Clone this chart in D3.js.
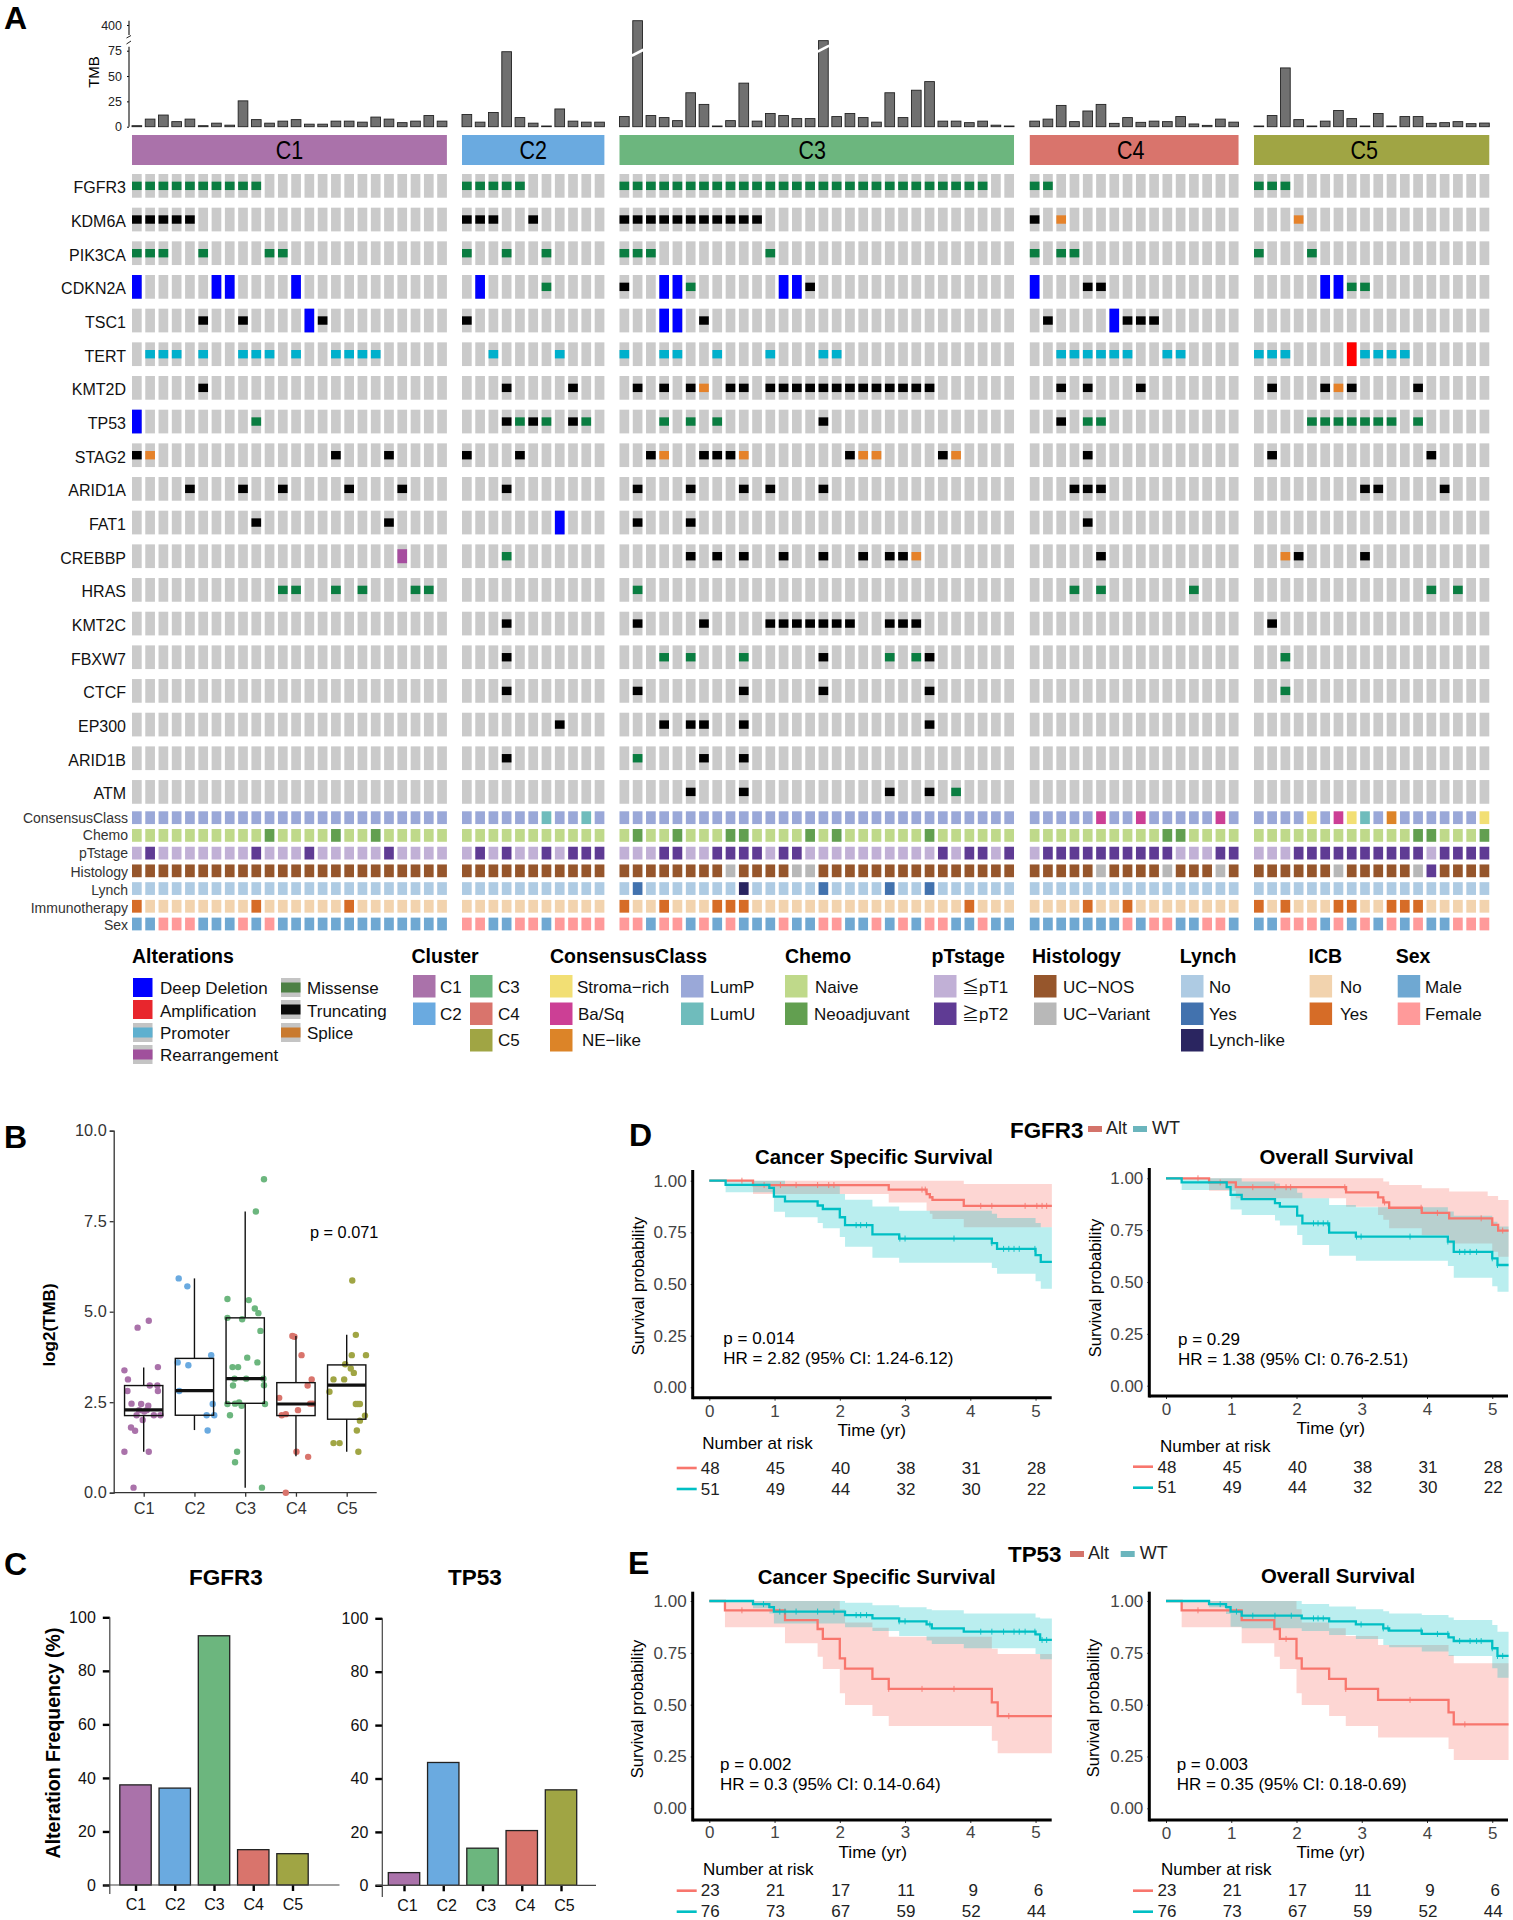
<!DOCTYPE html>
<html>
<head>
<meta charset="utf-8">
<script src="https://cdn.jsdelivr.net/npm/d3@7"></script>
<style>
body { margin: 0; background: #fff; }
text { font-family: "Liberation Sans", "Noto Sans CJK JP", sans-serif; }
</style>
</head>
<body>
<div id="main-svg"></div>
<script>
const clusters = ["C1", "C2", "C3", "C4", "C5"];
const clusterSizes = [24, 11, 30, 16, 18];
const clusterColors = ["#aa72aa", "#6aaae0", "#6cb67e", "#d9746c", "#a0a544"];

// TMB per patient, one array per cluster
const tmbC1 = [1, 7.5, 11.5, 5, 7.5, 1, 3.5, 1.5, 25.5, 7, 3.5, 5.5, 7, 2.5, 2.5, 5.5, 5.5, 4.5, 9.5, 7.5, 4, 5.5, 11, 5.5];
const tmbC2 = [12, 4.5, 14, 74, 9, 3.5, 0.7, 17.5, 5.5, 4.5, 4.5];
const tmbC3 = [10, 533, 11, 9, 6, 33.5, 22, 0.7, 6, 43, 5.5, 13, 11, 8, 8, 84.6, 10, 13, 9, 4.5, 33.5, 9, 36, 44.5, 5.5, 5.5, 4, 5.5, 1.5, 0.7];
const tmbC4 = [5.5, 7.5, 21, 5, 15.5, 22, 3.3, 9, 4.3, 5.5, 5, 10, 2.7, 1.3, 7.5, 4.5];
const tmbC5 = [0.7, 11, 58, 7, 0.7, 5.5, 16, 8, 0.7, 13, 0.7, 10, 10, 3.3, 4, 5, 3, 3.6];
const tmbAll = [tmbC1, tmbC2, tmbC3, tmbC4, tmbC5];

// alterations: one string per cluster, type letter + patient index or range
const FGFR3 = ["M0-9", "M0-4", "M0-27", "M0-1", "M0-2"];
const KDM6A = ["T0-4", "T0-2 T5", "T0-10", "T0 S2", "S3"];
const PIK3CA = ["M0-2 M5 M10-11", "M0 M3 M6", "M0-2 M11", "M0 M2-3", "M0 M4"];
const CDKN2A = ["D0 D6-7 D12", "D1 M6", "T0 D3-4 M5 D12-13 T14", "D0 T4-5", "D5-6 M7-8"];
const TSC1 = ["T5 T8 D13 T14", "T0", "D3-4 T6", "T1 D6 T7-9", ""];
const TERT = ["P1-3 P5 P8-10 P12 P15-18", "P2 P7", "P0 P3-4 P7 P11 P15-16", "P2-7 P10-11", "P0-2 A7 P8-11"];
const KMT2D = ["T5", "T3 T8", "T1 T3 T5 S6 T8-9 T11-23", "T2 T4 T8", "T1 T5 S6 T7 T12"];
const TP53 = ["D0 M9", "T3 M4 T5 M6 T8 M9", "M3 M5 M7 T15", "T2 M4-5", "M4-10 M12"];
const STAG2 = ["T0 S1 T15 T19", "T0 T4", "T2 S3 T6-8 S9 T17 S18-19 T24 S25", "T4", "T1 T13"];
const ARID1A = ["T4 T8 T11 T16 T20", "T3", "T1 T5 T9 T11 T15", "T3-5", "T8-9 T14"];
const FAT1 = ["T9 T19", "D7", "T1 T5", "T4", ""];
const CREBBP = ["R20", "M3", "T5 T7 T9 T12 T15 T18 T20-21 S22", "T5", "S2 T3 T8"];
const HRAS = ["M11-12 M15 M17 M21-22", "", "M1", "M3 M5 M12", "M13 M15"];
const KMT2C = ["", "T3", "T1 T6 T11-17 T20-22", "", "T1"];
const FBXW7 = ["", "T3", "M3 M5 M9 T15 M20 M22 T23", "", "M2"];
const CTCF = ["", "T3", "T1 T9 T15 T23", "", "M2"];
const EP300 = ["", "T7", "T3 T5-6 T9 T23", "", ""];
const ARID1B = ["", "T3", "M1 T6 T9", "", ""];
const ATM = ["", "", "T5 T9 T20 T23 M25", "", ""];
const genes = ["FGFR3", "KDM6A", "PIK3CA", "CDKN2A", "TSC1", "TERT", "KMT2D", "TP53", "STAG2", "ARID1A", "FAT1", "CREBBP", "HRAS", "KMT2C", "FBXW7", "CTCF", "EP300", "ARID1B", "ATM"];
const geneAlts = [FGFR3, KDM6A, PIK3CA, CDKN2A, TSC1, TERT, KMT2D, TP53, STAG2, ARID1A, FAT1, CREBBP, HRAS, KMT2C, FBXW7, CTCF, EP300, ARID1B, ATM];
const altColors = { M: "#0a7d41", T: "#000000", S: "#e5822a", P: "#00b0cc", D: "#0000ff", A: "#ff0000", R: "#a64d9f" };

// clinical tracks: only the patients that differ from the track's default level
const annConsensus = ["", "U6 U9", "", "B5 B8 B14", "S4 B6 S7 U8 N10 S17"];
const annChemo = ["A10 A15 A18", "", "A1 A4 A8-9 A14 A16 A23", "A10-11", "A12-13 A17"];
const annStage = ["H1 H9 H13 H19", "H1 H3 H6 H8-10", "H3-4 H7-10 H12-13 H24 H26-27 H29", "H1-10 H14-15", "H3-12 H14-17"];
const annHist = ["", "", "V8 V13-14", "V5 V10 V14", "V6 V12 X13"];
const annLynch = ["", "", "Y1 L9 Y15 Y20 Y23", "", ""];
const annImmuno = ["Y0 Y9 Y16", "", "Y0 Y3 Y7-9 Y26", "Y4 Y7", "Y0 Y2 Y6-7 Y10-12"];
const annSex = ["F2-4 F8 F10", "F0-1 F4-5 F7-10", "F0-1 F3-4 F6 F8 F12 F15-16 F19 F21 F23-24 F27", "F7 F9-10 F13-14", "F2-4 F6 F8 F10 F12 F15-17"];
const annNames = ["ConsensusClass", "Chemo", "pTstage", "Histology", "Lynch", "Immunotherapy", "Sex"];
const annData = [annConsensus, annChemo, annStage, annHist, annLynch, annImmuno, annSex];
const annPalette = [
    { _: "#9aa8d8", U: "#6fbcbc", B: "#cc3f95", S: "#f2df74", N: "#dc8428" },
    { _: "#bfd98a", A: "#629f50" },
    { _: "#c1b0d6", H: "#5f3b94" },
    { _: "#96562c", V: "#b8b8b8", X: "#5f3b94" },
    { _: "#aecbe3", Y: "#4272ae", L: "#2a2560" },
    { _: "#f2d3ae", Y: "#d66c27" },
    { _: "#6fa8d2", F: "#ff9a9a" }
];

// panel B
const boxStats = [
    { min: 1.13, q1: 2.13, med: 2.29, q3: 2.96, max: 3.46 },
    { min: 1.73, q1: 2.14, med: 2.82, q3: 3.71, max: 5.92 },
    { min: 0.14, q1: 2.47, med: 3.15, q3: 4.83, max: 7.77 },
    { min: 1.01, q1: 2.13, med: 2.45, q3: 3.04, max: 4.33 },
    { min: 1.13, q1: 2.03, med: 2.97, q3: 3.53, max: 4.36 }
];
// [jitter in category steps, log2(TMB)]
const ptsC1 = [[.10,4.75],[-.12,4.56],[-.38,3.38],[.28,3.47],[-.31,3.13],[.12,2.96],[.27,2.96],[-.32,2.81],[.28,2.81],[-.24,2.46],[-.05,2.45],[.09,2.40],[-.14,2.14],[.01,2.24],[.20,2.14],[.33,2.14],[-.02,2.01],[-.25,1.80],[-.17,1.71],[-.38,1.13],[.10,1.13],[-.20,.14],[-.09,2.28],[.06,2.28]];
const ptsC2 = [[-.31,5.92],[-.14,5.70],[.33,3.80],[-.33,3.60],[-.12,3.52],[-.30,2.81],[.36,2.45],[.24,2.14],[.39,2.14],[.26,1.72]];
const ptsC3 = [[.37,8.66],[.21,7.77],[-.35,5.35],[.07,5.32],[.19,5.09],[.26,4.96],[-.35,4.83],[-.06,4.79],[.30,4.47],[.04,3.73],[.24,3.60],[-.25,3.47],[-.14,3.47],[-.21,3.15],[.02,3.15],[.36,3.15],[-.24,2.96],[.37,2.97],[-.35,2.45],[-.20,2.46],[-.12,2.49],[-.07,2.40],[.39,2.45],[-.30,2.14],[-.16,1.13],[-.20,.84],[.33,.14]];
const ptsC4 = [[-.07,4.33],[-.03,4.31],[.11,3.80],[.31,3.13],[.23,2.96],[-.33,2.62],[.28,2.46],[.33,2.46],[-.28,2.14],[-.20,2.17],[.04,2.28],[.01,1.13],[.24,.99],[-.20,0]];
const ptsC5 = [[.11,5.86],[.18,4.36],[.10,3.80],[.38,3.80],[-.03,3.55],[.08,3.43],[.14,3.31],[-.26,3.13],[-.05,3.13],[-.34,2.79],[.18,2.45],[.22,2.45],[.26,2.45],[.36,2.13],[.26,1.99],[.20,1.72],[-.26,1.37],[-.14,1.37],[.23,1.13]];
const ptsAll = [ptsC1, ptsC2, ptsC3, ptsC4, ptsC5];

// panel C
const freqFGFR3 = [37.4, 36.2, 93.1, 13.2, 11.7];
const freqTP53 = [4.75, 46, 13.9, 20.5, 35.75];

// panel D, cancer specific survival
const d1AltT = [0, .67, 2.75, 3.33, 3.38, 3.42, 3.9, 5.25];
const d1AltS = [1, .979, .957, .935, .92, .907, .878, .878];
const d1AltU = [1, 1, 1, 1, 1, 1, .984, .984];
const d1AltL = [1, .936, .894, .855, .84, .815, .775, .775];
const d1AltC = [.5, .84, 1.09, 1.33, 1.66, 1.83, 1.91, 3.26, 3.31, 4.16, 4.33, 4.84, 5.02, 5.1, 5.17];
const d1WtT = [0, .25, .92, .99, 1.16, 1.66, 1.74, 2.0, 2.08, 2.5, 2.91, 4.33, 4.41, 5.0, 5.08, 5.25];
const d1WtS = [1, .98, .965, .923, .90, .88, .863, .823, .785, .74, .72, .698, .67, .64, .607, .607];
const d1WtU = [1, 1, 1, 1, .984, .984, .975, .936, .908, .875, .855, .84, .82, .795, .775, .775];
const d1WtL = [1, .944, .944, .85, .823, .795, .77, .727, .68, .627, .603, .577, .55, .513, .477, .477];
const d1WtC = [2.25, 2.32, 2.41, 2.92, 3.0, 3.75, 4.33, 4.51, 4.59, 4.67, 4.75, 4.99];

// panel D, overall survival
const d2AltT = [0, .66, 1.07, 2.76, 3.25, 3.33, 3.42, 3.92, 4.34, 4.93, 5.0, 5.09, 5.25];
const d2AltS = [1, .98, .957, .932, .908, .884, .858, .833, .807, .807, .775, .748, .748];
const d2AltU = [1, 1, 1, 1, 1, .984, .968, .952, .936, .915, .915, .895, .895];
const d2AltL = [1, .94, .904, .863, .823, .8, .759, .727, .686, .686, .646, .622, .622];
const d2AltC = [.49, .83, 1.33, 1.67, 1.84, 1.91, 2.74, 3.35, 3.91, 4.16, 4.83, 5.16];
const d2WtT = [0, .24, .93, .99, 1.16, 1.67, 1.745, 2.01, 2.09, 2.5, 2.91, 4.32, 4.41, 5, 5.08, 5.25];
const d2WtS = [1, .98, .957, .92, .90, .88, .863, .82, .783, .738, .719, .695, .645, .614, .582, .582];
const d2WtU = [1, 1, 1, 1, .984, .975, .957, .93, .904, .871, .86, .84, .82, .79, .767, .767];
const d2WtL = [1, .944, .944, .85, .823, .796, .772, .727, .678, .627, .603, .577, .52, .48, .453, .453];
const d2WtC = [2.26, 2.33, 2.41, 2.48, 2.92, 2.99, 3.74, 4.32, 4.5, 4.58, 4.66, 4.76, 5, 5.08];

// panel E, cancer specific survival
const e1AltT = [0, .24, 1.16, 1.66, 1.74, 2, 2.08, 2.5, 2.75, 4.33, 4.42, 5.25];
const e1AltS = [1, .955, .908, .865, .817, .723, .674, .624, .576, .511, .445, .445];
const e1AltU = [1, 1, 1, 1, 1, .96, .896, .871, .828, .77, .744, .744];
const e1AltL = [1, .873, .796, .731, .672, .555, .498, .445, .397, .326, .265, .265];
const e1AltC = [.5, 2.75, 3.26, 3.75, 4.59];
const e1WtT = [0, .67, .92, .99, 2.08, 2.5, 2.91, 3.33, 3.41, 3.9, 5, 5.07, 5.25];
const e1WtS = [1, .985, .97, .949, .932, .916, .902, .887, .868, .852, .839, .812, .812];
const e1WtU = [1, 1, 1, 1, .992, .98, .97, .96, .955, .94, .921, .916, .916];
const e1WtL = [1, .965, .94, .892, .873, .855, .831, .809, .793, .772, .744, .719, .719];
const e1WtC = [.83, 1.08, 1.16, 1.33, 1.66, 1.91, 2.25, 2.32, 2.41, 2.91, 3, 3.38, 4.16, 4.33, 4.51, 4.67, 4.75, 4.84, 4.99, 5.1, 5.17];

// panel E, overall survival
const e2AltT = [0, .24, 1.16, 1.66, 1.745, 2, 2.08, 2.5, 2.755, 3.25, 4.33, 4.41, 5.25];
const e2AltS = [1, .955, .908, .865, .817, .723, .674, .624, .576, .523, .463, .405, .405];
const e2AltU = [1, 1, 1, 1, 1, .96, .896, .868, .831, .788, .74, .70, .70];
const e2AltL = [1, .873, .796, .731, .672, .555, .498, .445, .397, .342, .286, .233, .233];
const e2AltC = [.49, 1.84, 2.755, 3.74, 4.58];
const e2WtT = [0, .66, .92, .99, 1.16, 2.08, 2.5, 2.91, 3.33, 3.42, 3.92, 4.33, 4.41, 5, 5.08, 5.25];
const e2WtS = [1, .985, .97, .949, .929, .916, .902, .887, .868, .857, .841, .825, .807, .772, .735, .735];
const e2WtU = [1, 1, 1, 1, 1, .985, .973, .96, .95, .94, .932, .921, .908, .884, .852, .852];
const e2WtL = [1, .97, .937, .876, .868, .855, .836, .817, .788, .777, .756, .735, .735, .675, .63, .63];
const e2WtC = [.83, 1.08, 1.33, 1.67, 1.92, 2.26, 2.33, 2.41, 2.99, 3.33, 3.4, 3.91, 4.16, 4.32, 4.5, 4.66, 4.76, 4.83, 5, 5.08, 5.16];

const riskFGFR3Alt = [48, 45, 40, 38, 31, 28];
const riskFGFR3Wt = [51, 49, 44, 32, 30, 22];
const riskTP53Alt = [23, 21, 17, 11, 9, 6];
const riskTP53Wt = [76, 73, 67, 59, 52, 44];

const width = 1513;
const height = 1920;
const altRed = "#f8766d";
const wtTeal = "#00bfc4";

const svg = d3.select("#main-svg")
    .append("svg")
    .attr("width", width)
    .attr("height", height)
    .style("display", "block");

function addText(x, y, str, size, opts = {}) {
    return svg.append("text")
        .attr("x", x)
        .attr("y", y)
        .attr("font-size", size)
        .attr("font-weight", opts.bold ? "bold" : null)
        .attr("text-anchor", opts.anchor || "start")
        .attr("fill", opts.fill || "#000")
        .text(str);
}

function rotText(x, y, str, size, bold) {
    return svg.append("text")
        .attr("transform", `translate(${x},${y}) rotate(-90)`)
        .attr("font-size", size)
        .attr("font-weight", bold ? "bold" : null)
        .attr("text-anchor", "middle")
        .text(str);
}

// "M0-2 T5" -> Map(0:M, 1:M, 2:M, 5:T)
function parseCodes(str) {
    const out = new Map();
    str.split(" ").filter(Boolean).forEach(tok => {
        const [a, b] = tok.slice(1).split("-").map(Number);
        for (let i = a; i <= (b === undefined ? a : b); i++) out.set(i, tok[0]);
    });
    return out;
}

// ---- panel A ----
[["A", 4, 29], ["B", 4, 1148], ["C", 4, 1575], ["D", 629, 1146], ["E", 628, 1574]].forEach(d => {
    addText(d[1], d[2], d[0], 32, { bold: true });
});

const colPitch = 13.27;
const colPad = 0.27;
const clusterStart = [132, 462, 619.5, 1029.8, 1254];
const stripLabelDx = [0, 0, -4.5, -3.5, -7.5];
const colScales = clusters.map((c, k) => d3.scaleBand()
    .domain(d3.range(clusterSizes[k]))
    .range([clusterStart[k], clusterStart[k] + (clusterSizes[k] - colPad) * colPitch])
    .paddingInner(colPad)
    .paddingOuter(0)
    .align(0));

const tmbY = d3.scaleLinear().domain([0, 75, 90, 400]).range([126.7, 50.7, 35, 25]);
const tmbBreaks = [{ k: 2, i: 1, at: 73 }, { k: 2, i: 15, at: 77 }];

const tmbAxis = svg.append("g").attr("transform", "translate(129,0)")
    .call(d3.axisLeft(tmbY).tickValues([0, 25, 50, 75, 400]).tickSize(2).tickPadding(5));
tmbAxis.select(".domain").remove();
tmbAxis.selectAll("text").attr("font-size", 12.5).attr("fill", "#222").style("font-family", null);
[[20.7, 35], [46.7, 126.7]].forEach(seg => {
    svg.append("line").attr("x1", 129).attr("x2", 129).attr("y1", seg[0]).attr("y2", seg[1])
        .attr("stroke", "#222").attr("stroke-width", 1.2);
});
svg.append("path").attr("d", "M126.5,38 L131,35.5 M126.5,44 L131,41").attr("stroke", "#222").attr("fill", "none");
rotText(99, 72, "TMB", 15);

const geneY = d3.scaleBand().domain(genes).range([174, 174 + (19 - 0.296) * 33.67]).paddingInner(0.296).paddingOuter(0).align(0);
const annY = d3.scaleBand().domain(annNames).range([811.3, 811.3 + (7 - 0.28) * 17.72]).paddingInner(0.28).paddingOuter(0).align(0);

clusters.forEach((c, k) => {
    const xb = colScales[k];
    const bw = xb.bandwidth();
    const g = svg.append("g");

    g.selectAll(".tmb").data(tmbAll[k]).join("rect")
        .attr("class", "tmb")
        .attr("x", (d, i) => xb(i))
        .attr("y", d => tmbY(d))
        .attr("width", bw)
        .attr("height", d => tmbY(0) - tmbY(d))
        .attr("fill", "#707070")
        .attr("stroke", "#222")
        .attr("stroke-width", 0.9);

    const stripEnd = xb(clusterSizes[k] - 1) + bw;
    g.append("rect")
        .attr("x", xb(0)).attr("y", 135)
        .attr("width", stripEnd - xb(0)).attr("height", 30)
        .attr("fill", clusterColors[k]);
    g.append("text")
        .attr("transform", `translate(${(xb(0) + stripEnd) / 2 + stripLabelDx[k]},158.5) scale(1,1.18)`)
        .attr("text-anchor", "middle")
        .attr("font-size", 21.5)
        .text(c);

    genes.forEach((gene, r) => {
        const y0 = geneY(gene);
        const rh = geneY.bandwidth();
        g.selectAll(null).data(d3.range(clusterSizes[k])).join("rect")
            .attr("x", i => xb(i)).attr("y", y0)
            .attr("width", bw).attr("height", rh)
            .attr("fill", "#cacaca");
        const alts = Array.from(parseCodes(geneAlts[r][k]));
        g.selectAll(null).data(alts).join("rect")
            .attr("x", d => xb(d[0]))
            .attr("y", d => {
                const h = d[1] === "D" || d[1] === "A" ? rh : d[1] === "R" ? 14 : 8.4;
                return y0 + (rh - h) / 2;
            })
            .attr("width", bw)
            .attr("height", d => d[1] === "D" || d[1] === "A" ? rh : d[1] === "R" ? 14 : 8.4)
            .attr("fill", d => altColors[d[1]]);
    });

    annNames.forEach((name, r) => {
        const codes = parseCodes(annData[r][k]);
        g.selectAll(null).data(d3.range(clusterSizes[k])).join("rect")
            .attr("x", i => xb(i)).attr("y", annY(name))
            .attr("width", bw).attr("height", annY.bandwidth())
            .attr("fill", i => annPalette[r][codes.get(i) || "_"]);
    });

    const tmbG = g.append("g");
    tmbBreaks.filter(b => b.k === k).forEach(b => {
        tmbG.append("line")
            .attr("x1", xb(b.i) - 1).attr("x2", xb(b.i) + bw + 1)
            .attr("y1", tmbY(b.at) + 3).attr("y2", tmbY(b.at) - 3)
            .attr("stroke", "#fff").attr("stroke-width", 2.6);
    });
});

genes.forEach(gene => {
    addText(126, geneY(gene) + geneY.bandwidth() / 2 + 7.5, gene, 16, { anchor: "end", fill: "#111" });
});
annNames.forEach((name, r) => {
    addText(128, annY(name) + annY.bandwidth() / 2 + (r >= 3 ? 6.5 : 5), name, 14, { anchor: "end", fill: "#333" });
});

// ---- oncoprint legends ----
function legendTitle(x, str) {
    addText(x, 963, str, 19.5, { bold: true });
}
function swatch(x, y, w, h, color) {
    svg.append("rect").attr("x", x).attr("y", y).attr("width", w).attr("height", h).attr("fill", color);
}

legendTitle(132, "Alterations");
const altLegend = [
    ["Deep Deletion", "#0000ff", 133, 978, 160, 994, true],
    ["Amplification", "#e8262d", 133, 1000, 160, 1016.5, true],
    ["Promoter", "#5fb0cf", 133, 1023, 160, 1039, false],
    ["Rearrangement", "#a0509c", 133, 1045, 160, 1061, false],
    ["Missense", "#4d8045", 281, 978, 307, 994, false],
    ["Truncating", "#0a0a0a", 281, 1000, 307, 1016.5, false],
    ["Splice", "#c97a2f", 281, 1023, 307, 1039, false]
];
altLegend.forEach(d => {
    if (d[6]) {
        swatch(d[2], d[3], 19.5, 19, d[1]);
    } else {
        swatch(d[2], d[3], 19.5, 19, "#c4c4c4");
        swatch(d[2], d[3] + 4.5, 19.5, 10, d[1]);
    }
    addText(d[4], d[5], d[0], 17, { fill: "#111" });
});

const rowY = [975, 1002.5, 1029];
const rowText = [992.7, 1019.5, 1046];
function legendItem(sx, row, label, tx, color) {
    swatch(sx, rowY[row], 22.5, 22.5, color);
    addText(tx, rowText[row], label, 17, { fill: "#111" });
}

legendTitle(411.5, "Cluster");
legendItem(413, 0, "C1", 440, clusterColors[0]);
legendItem(413, 1, "C2", 440, clusterColors[1]);
legendItem(470, 0, "C3", 498, clusterColors[2]);
legendItem(470, 1, "C4", 498, clusterColors[3]);
legendItem(470, 2, "C5", 498, clusterColors[4]);

legendTitle(550, "ConsensusClass");
legendItem(550, 0, "Stroma\u2212rich", 577, "#f2df74");
legendItem(550, 1, "Ba/Sq", 578, "#cc3f95");
legendItem(550, 2, "NE\u2212like", 582, "#dc8428");
legendItem(681, 0, "LumP", 710, "#9aa8d8");
legendItem(681, 1, "LumU", 710, "#6fbcbc");

legendTitle(785, "Chemo");
legendItem(785, 0, "Naive", 815, "#bfd98a");
legendItem(785, 1, "Neoadjuvant", 814, "#629f50");

legendTitle(931.5, "pTstage");
legendItem(934, 0, "\u2266pT1", 962, "#c1b0d6");
legendItem(934, 1, "\u2267pT2", 962, "#5f3b94");

legendTitle(1032, "Histology");
legendItem(1034, 0, "UC\u2212NOS", 1063, "#96562c");
legendItem(1034, 1, "UC\u2212Variant", 1063, "#b8b8b8");

legendTitle(1179.7, "Lynch");
legendItem(1181, 0, "No", 1209, "#aecbe3");
legendItem(1181, 1, "Yes", 1209, "#4272ae");
legendItem(1181, 2, "Lynch-like", 1209, "#2a2560");

legendTitle(1308.6, "ICB");
legendItem(1309.6, 0, "No", 1340, "#f2d3ae");
legendItem(1309.6, 1, "Yes", 1340, "#d66c27");

legendTitle(1395.7, "Sex");
legendItem(1397.7, 0, "Male", 1425, "#6fa8d2");
legendItem(1397.7, 1, "Female", 1425, "#ff9a9a");

// ---- panel B ----
const bY = d3.scaleLinear().domain([0, 10]).range([1492.7, 1130.7]);
const bX = d3.scalePoint().domain(clusters).range([143.7, 346.7]);
const bStep = bX.step();

const bLeft = svg.append("g").attr("transform", "translate(113.7,0)")
    .call(d3.axisLeft(bY).tickValues([0, 2.5, 5, 7.5, 10]).tickFormat(d3.format(".1f")).tickSize(4).tickPadding(3));
const bBottom = svg.append("g").attr("transform", "translate(0,1492.7)")
    .call(d3.axisBottom(bX).tickSize(4).tickPadding(6));
bBottom.select(".domain").attr("d", "M113.7,0H376.7");
[bLeft, bBottom].forEach(ax => {
    ax.select(".domain").attr("stroke", "#333").attr("stroke-width", 1.3);
    ax.selectAll(".tick line").attr("stroke", "#333").attr("stroke-width", 1.3);
    ax.selectAll("text").attr("font-size", 16.3).attr("fill", "#333").style("font-family", null);
});

clusters.forEach((c, k) => {
    svg.append("g").selectAll("circle").data(ptsAll[k]).join("circle")
        .attr("cx", d => bX(c) + d[0] * bStep)
        .attr("cy", d => bY(d[1]))
        .attr("r", 3.2)
        .attr("fill", clusterColors[k]);
    const s = boxStats[k];
    const cx = bX(c);
    const bw = 38.3;
    const bg = svg.append("g").attr("stroke", "#111").attr("stroke-width", 1.4).attr("fill", "none");
    bg.append("line").attr("x1", cx).attr("x2", cx).attr("y1", bY(s.max)).attr("y2", bY(s.q3));
    bg.append("line").attr("x1", cx).attr("x2", cx).attr("y1", bY(s.q1)).attr("y2", bY(s.min));
    bg.append("rect").attr("x", cx - bw / 2).attr("y", bY(s.q3)).attr("width", bw).attr("height", bY(s.q1) - bY(s.q3));
    bg.append("line").attr("x1", cx - bw / 2).attr("x2", cx + bw / 2).attr("y1", bY(s.med)).attr("y2", bY(s.med)).attr("stroke-width", 3.2);
});
addText(310, 1238, "p = 0.071", 16.3);
rotText(55, 1325, "log2(TMB)", 17, true);

// ---- panel C ----
addText(225.8, 1585, "FGFR3", 22.5, { bold: true, anchor: "middle" });
addText(475, 1585, "TP53", 22.5, { bold: true, anchor: "middle" });
rotText(60, 1743, "Alteration Frequency (%)", 19.5, true);

function freqPanel(values, axisX, y100, y0, firstTick, lineEnd, axisBottom, labelDx) {
    const y = d3.scaleLinear().domain([0, 100]).range([y0, y100]);
    const x = d3.scalePoint().domain(clusters).range([firstTick, firstTick + 4 * 39.25]);
    svg.append("g").selectAll("rect").data(values).join("rect")
        .attr("x", (d, i) => x(clusters[i]) - 15.7)
        .attr("y", d => y(d))
        .attr("width", 31.4)
        .attr("height", d => y(0) - y(d))
        .attr("fill", (d, i) => clusterColors[i])
        .attr("stroke", "#222")
        .attr("stroke-width", 1.3);
    const left = svg.append("g").attr("transform", `translate(${axisX},0)`)
        .call(d3.axisLeft(y).tickValues([0, 20, 40, 60, 80, 100]).tickSize(7).tickPadding(7));
    left.select(".domain").remove();
    const bottom = svg.append("g").attr("transform", `translate(0,${y0})`)
        .call(d3.axisBottom(x).tickSize(6).tickPadding(8));
    bottom.select(".domain").remove();
    [left, bottom].forEach(ax => {
        ax.selectAll(".tick line").attr("stroke", "#000").attr("stroke-width", 2.4);
        ax.selectAll("text").attr("font-size", 16).attr("fill", "#111").style("font-family", null);
    });
    bottom.selectAll("text").attr("dx", labelDx);
    svg.append("line").attr("x1", axisX).attr("x2", axisX).attr("y1", y100).attr("y2", axisBottom)
        .attr("stroke", "#444").attr("stroke-width", 1.2);
    svg.append("line").attr("x1", axisX - 6).attr("x2", lineEnd).attr("y1", y0).attr("y2", y0)
        .attr("stroke", "#444").attr("stroke-width", 1.2);
}
freqPanel(freqFGFR3, 109.8, 1617.3, 1885, 135.5, 339.5, 1894, 0);
freqPanel(freqTP53, 382.3, 1618.3, 1885.3, 404, 596, 1897, 3);

// ---- panels D and E ----
const kmPanels = [
    { title: "Cancer Specific Survival", titleX: 874, titleY: 1164, axisX: 692.7, x0: 709.3, right: 1051.7, top: 1170, bottom: 1397.7,
      y1: 1180.7, y0: 1387.3, labX: 638, labY: 1286, tickY: 7.3, timeX: 871.7, timeY: 1436, annX: 723.3, pY: 1344, hrY: 1364,
      pTxt: "p = 0.014", hrTxt: "HR = 2.82 (95% CI: 1.24-6.12)", nX: 702.3, nY: 1449, riskA: 1474, riskB: 1494.7, keyX: 676.7, keyA: 1468, keyB: 1489,
      alt: [d1AltT, d1AltS, d1AltU, d1AltL, d1AltC], wt: [d1WtT, d1WtS, d1WtU, d1WtL, d1WtC], nAlt: riskFGFR3Alt, nWt: riskFGFR3Wt },
    { title: "Overall Survival", titleX: 1336.7, titleY: 1164, axisX: 1149.3, x0: 1166, right: 1508, top: 1168, bottom: 1396,
      y1: 1178.3, y0: 1385.7, labX: 1095, labY: 1288, tickY: 7, timeX: 1330.7, timeY: 1434, annX: 1178, pY: 1345, hrY: 1365,
      pTxt: "p = 0.29", hrTxt: "HR = 1.38 (95% CI: 0.76-2.51)", nX: 1160, nY: 1451.7, riskA: 1472.7, riskB: 1493, keyX: 1133, keyA: 1466.7, keyB: 1487.7,
      alt: [d2AltT, d2AltS, d2AltU, d2AltL, d2AltC], wt: [d2WtT, d2WtS, d2WtU, d2WtL, d2WtC], nAlt: riskFGFR3Alt, nWt: riskFGFR3Wt },
    { title: "Cancer Specific Survival", titleX: 876.7, titleY: 1584, axisX: 692.7, x0: 709.3, right: 1051.7, top: 1591.7, bottom: 1820,
      y1: 1601, y0: 1808.3, labX: 636.7, labY: 1709, tickY: 6, timeX: 872.7, timeY: 1858, annX: 720, pY: 1770, hrY: 1790,
      pTxt: "p = 0.002", hrTxt: "HR = 0.3 (95% CI: 0.14-0.64)", nX: 703, nY: 1875, riskA: 1896, riskB: 1916.7, keyX: 676.7, keyA: 1890.7, keyB: 1911.7,
      alt: [e1AltT, e1AltS, e1AltU, e1AltL, e1AltC], wt: [e1WtT, e1WtS, e1WtU, e1WtL, e1WtC], nAlt: riskTP53Alt, nWt: riskTP53Wt },
    { title: "Overall Survival", titleX: 1338, titleY: 1583, axisX: 1149.3, x0: 1166, right: 1508, top: 1591.7, bottom: 1820,
      y1: 1601, y0: 1808.3, labX: 1093, labY: 1708, tickY: 7, timeX: 1330.7, timeY: 1858, annX: 1176.7, pY: 1770, hrY: 1790,
      pTxt: "p = 0.003", hrTxt: "HR = 0.35 (95% CI: 0.18-0.69)", nX: 1161, nY: 1875, riskA: 1896, riskB: 1916.7, keyX: 1133, keyA: 1890.7, keyB: 1911.7,
      alt: [e2AltT, e2AltS, e2AltU, e2AltL, e2AltC], wt: [e2WtT, e2WtS, e2WtU, e2WtL, e2WtC], nAlt: riskTP53Alt, nWt: riskTP53Wt }
];

function drawKm(p) {
    const x = d3.scaleLinear().domain([0, 5]).range([p.x0, p.x0 + 5 * 65.25]);
    const y = d3.scaleLinear().domain([0, 1]).range([p.y0, p.y1]);

    [[p.alt, altRed, 0.3], [p.wt, wtTeal, 0.27]].forEach(([s, color, op]) => {
        const rows = s[0].map((t, i) => ({ t, s: s[1][i], u: s[2][i], l: s[3][i] }));
        svg.append("path").datum(rows)
            .attr("d", d3.area().curve(d3.curveStepAfter).x(d => x(d.t)).y0(d => y(d.l)).y1(d => y(d.u)))
            .attr("fill", color).attr("fill-opacity", op);
    });
    [[p.alt, altRed], [p.wt, wtTeal]].forEach(([s, color]) => {
        const rows = s[0].map((t, i) => ({ t, s: s[1][i] }));
        svg.append("path").datum(rows)
            .attr("d", d3.line().curve(d3.curveStepAfter).x(d => x(d.t)).y(d => y(d.s)))
            .attr("fill", "none").attr("stroke", color).attr("stroke-width", 2.3);
        svg.append("g").selectAll("line").data(s[4]).join("line")
            .attr("x1", d => x(d)).attr("x2", d => x(d))
            .attr("y1", d => y(s[1][d3.bisectRight(s[0], d) - 1]) - 3)
            .attr("y2", d => y(s[1][d3.bisectRight(s[0], d) - 1]) + 3)
            .attr("stroke", color).attr("stroke-width", 0.9);
    });

    const left = svg.append("g").attr("transform", `translate(${p.axisX},0)`)
        .call(d3.axisLeft(y).tickValues([0, .25, .5, .75, 1]).tickFormat(d3.format(".2f")).tickSize(2).tickPadding(4));
    const bottom = svg.append("g").attr("transform", `translate(0,${p.bottom})`)
        .call(d3.axisBottom(x).tickValues([0, 1, 2, 3, 4, 5]).tickFormat(d3.format("d")).tickSize(3).tickPadding(p.tickY - 3));
    [left, bottom].forEach(ax => {
        ax.select(".domain").remove();
        ax.selectAll(".tick line").attr("stroke", "#333");
        ax.selectAll("text").attr("font-size", 17).attr("fill", "#444").style("font-family", null);
    });
    svg.append("line").attr("x1", p.axisX).attr("x2", p.axisX).attr("y1", p.top).attr("y2", p.bottom + 1.5)
        .attr("stroke", "#000").attr("stroke-width", 3);
    svg.append("line").attr("x1", p.axisX).attr("x2", p.right).attr("y1", p.bottom).attr("y2", p.bottom)
        .attr("stroke", "#000").attr("stroke-width", 3);

    addText(p.titleX, p.titleY, p.title, 20.4, { bold: true, anchor: "middle" });
    rotText(p.labX + 6, p.labY, "Survival probability", 16.5);
    addText(p.timeX, p.timeY, "Time (yr)", 17.3, { anchor: "middle" });
    addText(p.annX, p.pY, p.pTxt, 17);
    addText(p.annX, p.hrY, p.hrTxt, 17);
    addText(p.nX, p.nY, "Number at risk", 17);

    [[p.nAlt, p.riskA, p.keyA, altRed], [p.nWt, p.riskB, p.keyB, wtTeal]].forEach(([vals, ty, ky, color]) => {
        svg.append("line").attr("x1", p.keyX).attr("x2", p.keyX + 20).attr("y1", ky).attr("y2", ky)
            .attr("stroke", color).attr("stroke-width", 2.6);
        vals.forEach((v, i) => {
            addText(x(i) + (v < 10 ? 3 : 1), ty, v, 17, { anchor: "middle", fill: "#222" });
        });
    });
}
kmPanels.forEach(drawKm);

// gene titles over the survival panels
function kmHeader(gene, x, y, keyX1, keyX2, keyTop, textY) {
    addText(x, y, gene, 22.4, { bold: true });
    swatch(keyX1, keyTop, 14, 6, "#d4736a");
    addText(keyX1 + 18, textY, "Alt", 18, { fill: "#222" });
    swatch(keyX2, keyTop, 14, 6, "#6bb5bd");
    addText(keyX2 + 19, textY, "WT", 18, { fill: "#222" });
}
kmHeader("FGFR3", 1010, 1138, 1088, 1133, 1126, 1134);
kmHeader("TP53", 1008, 1562, 1070, 1120.7, 1551, 1559);
</script>
</body>
</html>
